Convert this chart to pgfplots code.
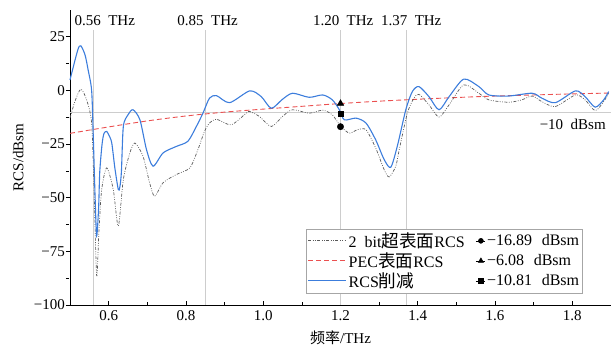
\documentclass[border=0pt]{standalone}
\usepackage{fontspec}
\setmainfont{Liberation Serif}
\newfontfamily\cjk{Noto Sans CJK SC}
\newfontfamily\cjkL{Noto Sans CJK SC}[Scale=1.1]
\usepackage{pgfplots}
\pgfplotsset{compat=1.18}
\definecolor{myblue}{RGB}{60,125,220}
\definecolor{myred}{RGB}{235,80,80}
\definecolor{mygray}{RGB}{90,90,90}
\definecolor{guide}{RGB}{205,205,205}
\newcommand\gap{\hspace{0.5em}}
\newcommand\lgap{\hspace{0.6em}}
\tikzset{
  graydd/.style={mygray, line width=0.7pt, dash pattern=on 3pt off 1.5pt on 0.8pt off 1.5pt on 0.8pt off 1.5pt},
  reddash/.style={myred, line width=0.9pt, dash pattern=on 5pt off 3pt},
  bluesolid/.style={myblue, line width=1.1pt},
}
\pgfplotsset{
  lineleg/.style={legend image code/.code={\draw[##1] (0pt,0pt) -- (38pt,0pt);}},
  markleg/.style={legend image code/.code={\draw[##1] plot coordinates {(5pt,0pt)}; \path (0pt,0pt) -- (9pt,0pt);}},
}
\begin{document}
\fontsize{15}{18}\selectfont
\begin{tikzpicture}
\begin{axis}[
  name=ax,
  scale only axis, width=541pt, height=295pt,
  xmin=0.5, xmax=1.9, ymin=-100, ymax=37.5,
  axis x line*=bottom, axis y line*=left,
  x axis line style={-, line width=0.8pt}, y axis line style={-, line width=0.8pt},
  xtick={0.6,0.8,1.0,1.2,1.4,1.6,1.8},
  xticklabels={0.6,0.8,1.0,1.2,1.4,1.6,1.8},
  ytick={-100,-75,-50,-25,0,25},
  yticklabels={−100,−75,−50,−25,0,25},
  minor x tick num=1, minor y tick num=1,
  tick align=inside,
  major tick length=4pt, minor tick length=3pt,
  tick style={black, line width=0.7pt},
  every y tick/.append style={xshift=-4pt},
  xlabel={{\cjk 频率}/THz},
  ylabel={RCS/dBsm},
  clip=false,
  legend columns=2,
  legend cell align=left,
  legend style={at={(0.436,0.04)}, anchor=south west, draw=gray!70, line width=0.5pt,
    font=\fontsize{16}{19}\selectfont, inner sep=1.5pt, row sep=-1pt,
    /tikz/every even column/.append style={column sep=9pt}},
]
% guide lines
\addplot[guide, line width=0.6pt, forget plot] coordinates {(0.56,-100) (0.56,28)};
\addplot[guide, line width=0.6pt, forget plot] coordinates {(0.85,-100) (0.85,28)};
\addplot[guide, line width=0.6pt, forget plot] coordinates {(1.20,-100) (1.20,28)};
\addplot[guide, line width=0.6pt, forget plot] coordinates {(1.37,-100) (1.37,28)};
\addplot[guide, line width=0.6pt, forget plot] coordinates {(0.5,-10) (1.9,-10)};

% PEC
\addplot[reddash, smooth, forget plot] coordinates {
(0.5,-20) (0.6,-17) (0.7,-14.2) (0.8,-11.9) (0.9,-10.1) (1.0,-8.7) (1.1,-7.4) (1.2,-6.1)
(1.3,-5.0) (1.4,-4.1) (1.5,-3.3) (1.6,-2.6) (1.7,-2.1) (1.8,-1.6) (1.9,-1.2)};

% 2 bit metasurface
\addplot[graydd, smooth, tension=0.45, forget plot] coordinates {
(0.500,-12.9) (0.513,-5) (0.528,0.6) (0.543,-4.4) (0.556,-15.2) (0.562,-45) (0.569,-86.4)
(0.575,-65) (0.582,-46.2) (0.595,-36.1) (0.612,-46.2) (0.625,-63.2) (0.638,-41.5)
(0.655,-29.1) (0.668,-24.5) (0.689,-30.7) (0.706,-43) (0.719,-49.3) (0.741,-43)
(0.775,-39.2) (0.810,-36.1) (0.831,-27.6) (0.848,-19.1) (0.861,-15.2) (0.879,-13.4)
(0.917,-16.0) (0.956,-10.6) (0.965,-9.8) (0.990,-12.1) (1.021,-16.8) (1.050,-12.1)
(1.076,-9.0) (1.119,-10.6) (1.154,-9.2) (1.179,-11.4) (1.201,-16.8) (1.223,-19.9)
(1.244,-18.3) (1.266,-18.3) (1.291,-26.8) (1.313,-36.9) (1.326,-40.3) (1.343,-35.3)
(1.352,-27.6) (1.373,-10.6) (1.390,-3.6) (1.403,-1.8) (1.429,-6.7) (1.455,-12.4)
(1.481,-6.7) (1.519,2.6) (1.558,-1.3) (1.584,-4.4) (1.635,-5.5) (1.669,-4.4)
(1.696,-2.6) (1.721,-5.2) (1.756,-7.5) (1.808,-2.1) (1.833,-4.4) (1.859,-9.4)
(1.881,-5.2) (1.894,-1.3)};

% RCS reduction
\addplot[bluesolid, smooth, tension=0.45, forget plot] coordinates {
(0.500,4.9) (0.520,18.8) (0.528,20.8) (0.539,16.5) (0.547,9.5) (0.556,0) (0.560,-20)
(0.565,-50) (0.569,-67.8) (0.574,-55) (0.577,-38) (0.583,-25) (0.588,-20) (0.595,-19.1)
(0.601,-21) (0.608,-24.4) (0.616,-36) (0.625,-46.2) (0.629,-45) (0.633,-38) (0.638,-16.8)
(0.650,-11.4) (0.663,-9.0) (0.681,-13.7) (0.698,-27.6) (0.715,-35.3) (0.741,-29.1)
(0.775,-26.1) (0.805,-23.7) (0.827,-16.8) (0.844,-10.6) (0.861,-3.6) (0.879,-2.4)
(0.913,-5.7) (0.965,-0.2) (0.995,-2.9) (1.021,-8.3) (1.050,-4.1) (1.076,-1.3)
(1.119,-3.2) (1.154,-2.1) (1.179,-4.4) (1.197,-9.0) (1.210,-13.7) (1.240,-12.9)
(1.266,-15.2) (1.291,-23) (1.313,-32.2) (1.330,-35.8) (1.347,-26) (1.369,-9.0)
(1.386,-0.5) (1.403,1.8) (1.429,-2.9) (1.455,-9.0) (1.481,-2.9) (1.519,5.3)
(1.558,1.8) (1.584,-2.1) (1.635,-2.6) (1.696,-1.3) (1.721,-3.6) (1.756,-5.7)
(1.808,-0.2) (1.833,-2.9) (1.859,-7.8) (1.881,-4.4) (1.894,-0.5)};

% markers
\addplot[only marks, mark=*, mark size=3.2pt, black, forget plot] coordinates {(1.2,-16.89)};
\addplot[only marks, mark=triangle*, mark size=3.8pt, black, forget plot] coordinates {(1.2,-6.08)};
\addplot[only marks, mark=square*, mark size=2.8pt, black, forget plot] coordinates {(1.2,-10.81)};

% legend
\addlegendimage{graydd, lineleg}
\addlegendentry{2\gap bit{\cjkL 超表面}RCS}
\addlegendimage{only marks, mark=*, mark size=2.5pt, black, markleg}
\addlegendentry{−16.89\lgap dBsm}
\addlegendimage{reddash, lineleg}
\addlegendentry{PEC{\cjkL 表面}RCS}
\addlegendimage{only marks, mark=triangle*, mark size=3pt, black, markleg}
\addlegendentry{−6.08\lgap dBsm}
\addlegendimage{bluesolid, lineleg}
\addlegendentry{RCS{\cjkL 削减}}
\addlegendimage{only marks, mark=square*, mark size=2.3pt, black, markleg}
\addlegendentry{−10.81\lgap dBsm}

% annotations
\node at (axis cs:0.590,32.5) {0.56\gap THz};
\node at (axis cs:0.856,32.5) {0.85\gap THz};
\node at (axis cs:1.207,32.5) {1.20\gap THz};
\node at (axis cs:1.383,32.5) {1.37\gap THz};
\node at (axis cs:1.801,-16) {−10\gap dBsm};
\end{axis}
\pgfresetboundingbox
\path[use as bounding box] ([xshift=-70pt,yshift=-50pt]ax.south west) rectangle ([yshift=10pt]ax.north east);
\end{tikzpicture}
\end{document}
